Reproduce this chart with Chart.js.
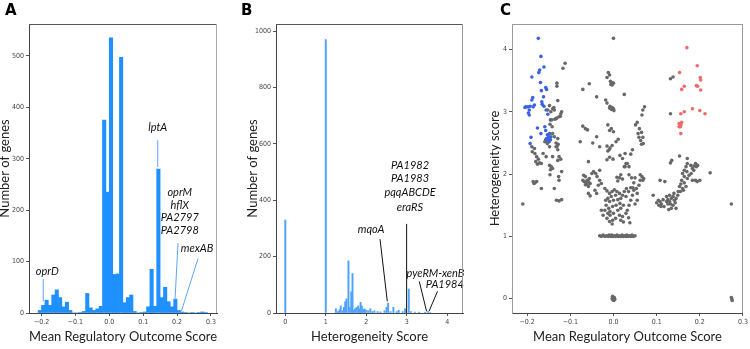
<!DOCTYPE html>
<html>
<head>
<meta charset="utf-8">
<script src="https://cdn.jsdelivr.net/npm/chart.js@4.4.1/dist/chart.umd.min.js"></script>
<style>
  body { margin: 0; background: #fff; }
  #wrap { position: relative; width: 750px; height: 349px; overflow: hidden; }
  canvas { position: absolute; top: 0; }
  .lab { position: absolute; font: bold 15px "DejaVu Sans", sans-serif; color: #000; }
</style>
</head>
<body>
<div id="wrap">
  <canvas id="cA" width="240" height="349" style="left:0"></canvas>
  <canvas id="cB" width="230" height="349" style="left:245px"></canvas>
  <canvas id="cC" width="260" height="349" style="left:490px"></canvas>
  <div class="lab" style="left:5px;top:1px">A</div>
  <div class="lab" style="left:241px;top:1px">B</div>
  <div class="lab" style="left:500px;top:1px">C</div>
</div>
<script>
'use strict';

// ---- panel A : histogram of mean regulatory outcome score (bin start, count)
const aBins = [-0.21, -0.20, -0.19, -0.18, -0.17, -0.16, -0.15, -0.14, -0.13, -0.12, -0.11, -0.10,
  -0.09, -0.08, -0.07, -0.06, -0.05, -0.04, -0.03, -0.02, -0.01, 0.00, 0.01, 0.02, 0.03, 0.04,
  0.05, 0.06, 0.07, 0.08, 0.09, 0.10, 0.11, 0.12, 0.13, 0.14, 0.15, 0.16, 0.17, 0.18, 0.19,
  0.20, 0.21, 0.22, 0.23, 0.24, 0.25, 0.26, 0.27, 0.28];
const aCounts = [5, 15, 25, 15, 35, 45, 30, 12, 21, 5, 0, 0,
  1, 3, 38, 10, 5, 8, 13, 375, 235, 535, 75, 76, 497, 20,
  30, 35, 3, 0, 1, 2, 12, 85, 13, 280, 30, 50, 22, 12, 27,
  5, 2, 1, 0, 1, 0, 1, 2, 1];
const aXTicks = [-0.2, -0.1, 0, 0.1, 0.2, 0.3];
const aXLabels = ['\u22120.2', '\u22120.1', '0.0', '0.1', '0.2', '0.3'];
const aYTicks = [0, 100, 200, 300, 400, 500];

// ---- panel B : histogram of heterogeneity score
const bScores = [0, 1, 1.25, 1.30, 1.34, 1.37, 1.42, 1.45, 1.48, 1.51, 1.56, 1.59, 1.63, 1.66,
  1.69, 1.72, 1.76, 1.80, 1.83, 1.86, 1.89, 1.92, 1.96, 2.00, 2.05, 2.10, 2.15, 2.20, 2.28,
  2.35, 2.45, 2.50, 2.54, 2.60, 2.67, 2.75, 2.80, 2.90, 2.96, 3.05, 3.10, 3.20, 3.30, 3.45,
  3.52, 3.58];
const bCounts = [330, 970, 15, 5, 12, 25, 8, 20, 40, 50, 185, 20, 75, 140,
  10, 15, 20, 25, 15, 38, 25, 12, 15, 10, 8, 15, 5, 8, 5,
  4, 8, 20, 35, 5, 20, 5, 10, 5, 15, 85, 5, 3, 3, 3,
  5, 2];
const bXTicks = [0, 1, 2, 3, 4];
const bYTicks = [0, 200, 400, 600, 800, 1000];

// ---- panel C : score vs heterogeneity, [score, heterogeneity]
const grayGenes = [
  [-0.210,1.52],[-0.112,3.78],[-0.117,3.70],[-0.131,3.46],[-0.131,3.41],[-0.129,3.18],
  [-0.148,3.10],[-0.141,3.05],[-0.145,3.00],[-0.152,3.03],[-0.123,2.93],[-0.131,2.90],[-0.136,2.88],
  [-0.142,2.76],[-0.147,2.80],[-0.133,2.50],[-0.130,2.45],[-0.128,2.48],
  [-0.189,2.44],[-0.183,2.41],[-0.188,2.36],[-0.182,2.33],[-0.178,2.28],[-0.174,2.24],[-0.180,2.20],
  [-0.171,2.18],[-0.167,2.17],[-0.176,2.16],[-0.159,2.52],[-0.153,2.49],[-0.148,2.44],
  [-0.163,2.33],[-0.156,2.28],[-0.148,2.14],[-0.144,2.12],[-0.141,2.09],[-0.146,2.07],
  [-0.129,2.22],[-0.126,2.28],[-0.122,2.24],[-0.133,2.44],[-0.129,2.39],
  [-0.141,2.65],[-0.137,2.60],[-0.129,2.57],[-0.126,2.92],[-0.122,2.97],[-0.120,3.00],
  [-0.138,3.07],[-0.137,3.03],[-0.133,2.89],[-0.143,2.87],
  [-0.186,1.88],[-0.182,1.86],[-0.178,1.88],[-0.184,1.85],[-0.167,1.77],[-0.147,1.99],[-0.137,1.77],
  [-0.132,1.58],[-0.126,1.57],[-0.120,1.59],[-0.127,1.96],[-0.126,1.90],[-0.120,2.04],[-0.141,2.28],
  [0.000,4.18],[-0.012,3.63],[-0.009,3.59],[-0.015,3.55],
  [-0.007,3.49],[-0.004,3.47],[0.000,3.46],[-0.006,3.44],[-0.003,3.43],
  [0.025,3.28],[-0.039,3.24],[-0.018,3.19],[-0.015,3.14],
  [-0.008,3.09],[-0.003,3.07],[0.000,3.05],[-0.005,3.04],[-0.009,3.06],[0.001,3.02],
  [-0.056,3.45],[-0.071,3.36],[-0.071,2.77],[-0.065,2.73],[-0.060,2.71],
  [-0.077,2.52],[-0.039,2.60],[-0.048,2.50],[-0.058,2.20],[-0.032,2.44],
  [-0.013,2.79],[-0.005,2.73],[0.000,2.68],[-0.009,2.70],
  [-0.015,2.45],[-0.008,2.42],[-0.003,2.46],[-0.010,2.39],[-0.013,2.37],
  [-0.009,2.27],[-0.001,2.24],[-0.015,2.23],[0.006,2.52],[0.011,2.56],
  [0.015,2.30],[0.021,2.25],[0.027,2.33],[0.051,2.79],[0.055,2.83],
  [0.060,2.73],[0.065,2.67],[0.068,2.59],[0.063,2.54],[0.059,2.59],[0.057,2.65],[0.069,2.49],[0.065,2.48],
  [0.072,3.08],[0.068,3.03],[0.066,2.95],[0.044,2.39],[0.040,2.32],
  [0.032,2.17],[0.027,2.12],[0.036,2.12],
  [0.062,1.99],[0.066,1.96],[0.068,1.90],[0.062,1.90],[0.070,1.93],
  [0.059,1.82],[0.053,1.77],[0.055,1.69],
  [0.036,1.99],[0.042,1.94],[0.047,1.86],[0.040,1.78],[0.045,1.78],[0.050,1.94],
  [0.017,1.99],[0.014,1.94],[0.008,1.95],[0.021,1.92],[0.010,1.89],[0.025,2.12],[0.029,2.17],
  [-0.032,2.06],[-0.041,2.01],[-0.038,1.96],
  [-0.069,1.98],[-0.065,1.96],[-0.061,1.90],[-0.068,1.88],[-0.063,1.86],[-0.058,1.88],[-0.054,1.85],
  [-0.060,1.83],[-0.065,1.83],[-0.056,1.93],[-0.050,2.01],[-0.046,2.04],[-0.071,1.90],[-0.058,1.80],
  [-0.058,1.69],[-0.054,1.65],[-0.032,1.90],[-0.035,1.82],[-0.028,1.85],[-0.043,1.74],[-0.039,1.69],
  [-0.028,1.42],[-0.024,1.34],[-0.015,1.29],[-0.008,1.34],[-0.002,1.26],[0.005,1.29],
  [-0.020,1.77],[-0.015,1.73],[-0.009,1.69],[-0.003,1.72],[0.002,1.75],[0.008,1.72],[0.014,1.69],
  [0.005,1.66],[-0.005,1.64],[-0.013,1.61],[-0.018,1.58],[-0.009,1.56],[0.000,1.58],[0.010,1.59],
  [0.017,1.61],[0.021,1.66],[0.025,1.72],[0.030,1.77],[0.035,1.72],[0.029,1.64],[0.015,1.53],
  [0.006,1.50],[-0.002,1.48],[-0.011,1.45],[-0.017,1.50],[-0.008,1.40],[0.000,1.37],[0.010,1.42],
  [0.017,1.45],[0.023,1.50],[-0.020,1.42],[-0.013,1.37],[0.014,1.34],[0.021,1.32],[0.029,1.37],
  [0.032,1.42],[0.036,1.50],[0.040,1.58],[0.044,1.66],[0.047,1.74],
  [0.017,1.26],[0.023,1.23],[0.035,1.30],[0.038,1.22],[0.055,1.58],[0.050,1.52],[-0.009,1.24],[-0.003,1.20],
  [-0.032,1.01],[-0.028,1.00],[-0.024,1.02],[-0.020,1.00],[-0.016,1.01],[-0.012,1.00],[-0.010,1.02],
  [-0.006,1.00],[-0.004,1.02],[-0.001,1.00],[0.002,1.01],[0.005,1.00],[0.008,1.02],[0.011,1.00],
  [0.014,1.01],[0.017,1.00],[0.020,1.02],[0.023,1.00],[0.026,1.01],[0.029,1.00],[0.031,1.02],
  [0.034,1.00],[0.037,1.01],[0.040,1.00],[0.043,1.02],[0.046,1.00],[0.050,1.01],
  [-0.003,0.00],[0.002,0.02],[0.001,-0.03],[-0.002,0.04],[0.003,-0.01],[0.000,0.01],[-0.001,-0.02],
  [0.274,0.00],[0.275,-0.03],[0.273,0.02],[0.273,1.52],
  [0.092,1.66],[0.108,1.90],[0.119,1.88],[0.132,2.18],[0.135,2.22],[0.153,2.29],[0.171,2.25],
  [0.104,1.58],[0.108,1.56],[0.111,1.52],[0.105,1.50],[0.110,1.48],[0.115,1.59],[0.100,1.54],[0.117,1.48],
  [0.123,1.64],[0.126,1.59],[0.130,1.56],[0.134,1.61],[0.138,1.64],[0.141,1.58],[0.132,1.52],[0.138,1.50],
  [0.126,1.52],[0.143,1.54],[0.145,1.61],[0.140,1.69],[0.149,1.66],[0.150,1.72],[0.130,1.66],[0.123,1.56],
  [0.134,1.45],[0.145,1.45],[0.128,1.43],[0.153,1.80],[0.156,1.84],[0.160,1.77],[0.164,1.86],[0.155,1.72],
  [0.162,1.74],[0.168,1.80],[0.158,1.90],[0.160,2.01],[0.164,2.06],[0.168,2.12],[0.170,2.04],[0.175,1.98],
  [0.164,1.96],[0.171,1.93],[0.180,2.01],[0.171,2.17],[0.179,2.14],[0.183,2.09],[0.186,2.13],[0.190,2.17],
  [0.192,2.12],[0.195,2.14],[0.186,2.06],[0.183,1.90],[0.190,1.90],[0.194,1.88],[0.200,1.90],[0.224,2.02],
  [0.132,3.53],[0.138,3.56],[0.132,2.97]
];
const blueGenes = [
  [-0.174,4.18],[-0.168,3.89],[-0.161,3.72],[-0.171,3.67],[-0.173,3.63],[-0.189,3.56],[-0.169,3.47],
  [-0.157,3.39],[-0.155,3.36],[-0.167,3.34],[-0.187,3.23],[-0.189,3.19],[-0.162,3.24],[-0.203,3.08],
  [-0.198,3.08],[-0.205,3.07],[-0.195,3.03],[-0.193,3.09],[-0.195,2.95],[-0.197,2.98],[-0.186,3.08],
  [-0.183,3.11],[-0.165,3.12],[-0.161,3.09],[-0.166,3.16],[-0.156,3.03],[-0.152,2.96],[-0.146,2.87],
  [-0.176,2.74],[-0.159,2.76],[-0.157,2.70],[-0.191,2.59],[-0.193,2.49],[-0.168,2.65],
  [-0.153,2.63],[-0.150,2.60],[-0.148,2.58],[-0.146,2.55],[-0.152,2.56],[-0.155,2.57],[-0.145,2.60],
  [-0.149,2.52],[-0.153,2.52],[-0.157,2.55],[-0.148,2.65]
];
const redGenes = [
  [0.170,4.03],[0.194,3.74],[0.153,3.63],[0.164,3.41],[0.158,3.36],[0.201,3.55],[0.202,3.51],
  [0.192,3.42],[0.195,3.41],[0.202,3.35],[0.183,3.05],[0.200,3.02],[0.212,2.97],[0.156,2.97],
  [0.164,3.00],[0.152,2.81],[0.156,2.79],[0.155,2.76],[0.158,2.83],[0.152,2.76],[0.156,2.65]
];
const cXTicks = [-0.2, -0.1, 0, 0.1, 0.2, 0.3];
const cYTicks = [0, 1, 2, 3, 4];

const tickFont = { family: '"DejaVu Sans Condensed", "DejaVu Sans", sans-serif', size: 7 };
const titleFont = { family: 'Lato, "Open Sans", sans-serif', size: 13 };

// box round the plot area (top + right edges; left/bottom are axis borders)
const boxPlugin = {
  id: 'box',
  afterDraw(chart, args, opts) {
    const { ctx, chartArea: a } = chart;
    ctx.save();
    ctx.lineWidth = 1;
    ctx.strokeStyle = opts.top;
    ctx.beginPath(); ctx.moveTo(a.left, a.top + 0.5); ctx.lineTo(a.right, a.top + 0.5); ctx.stroke();
    ctx.strokeStyle = opts.right;
    ctx.beginPath(); ctx.moveTo(a.right - 0.5, a.top); ctx.lineTo(a.right - 0.5, a.bottom); ctx.stroke();
    ctx.restore();
  }
};

// gene labels with leader lines, given in data units
const notesPlugin = {
  id: 'notes',
  afterDatasetsDraw(chart, args, opts) {
    const { ctx, scales: { x, y } } = chart;
    ctx.save();
    (opts.lines || []).forEach(l => {
      ctx.strokeStyle = opts.lineColor;
      ctx.lineWidth = 1;
      ctx.beginPath();
      ctx.moveTo(x.getPixelForValue(l[0]), y.getPixelForValue(l[1]));
      ctx.lineTo(x.getPixelForValue(l[2]), y.getPixelForValue(l[3]));
      ctx.stroke();
    });
    ctx.font = 'italic 11px Lato, "Open Sans", sans-serif';
    ctx.fillStyle = '#111';
    ctx.textAlign = 'center';
    ctx.textBaseline = 'middle';
    (opts.texts || []).forEach(t => {
      ctx.fillText(t[0], x.getPixelForValue(t[1]), y.getPixelForValue(t[2]));
    });
    ctx.restore();
  }
};

function axis(opts) {
  return Object.assign({
    type: 'linear',
    offset: false,
    grid: { drawOnChartArea: false, drawTicks: true, tickLength: 3, color: '#555', offset: false },
    border: { display: true, color: '#444' }
  }, opts);
}

function makeChart(id, type, datasets, cfg) {
  const W = document.getElementById(id).width;
  return new Chart(document.getElementById(id), {
    type: type,
    data: { datasets: datasets },
    plugins: [boxPlugin, notesPlugin],
    options: {
      responsive: false,
      animation: false,
      devicePixelRatio: 1,
      layout: { padding: { top: 24, right: W - cfg.right, bottom: 0, left: 0 } },
      plugins: {
        legend: { display: false },
        tooltip: { enabled: false },
        box: cfg.box,
        notes: cfg.notes
      },
      scales: {
        x: axis({
          min: cfg.xMin, max: cfg.xMax,
          afterBuildTicks: s => { s.ticks = cfg.xTicks.map(v => ({ value: v })); },
          afterFit: s => { s.height = 36; },
          ticks: { font: tickFont, color: '#444', padding: 2, maxRotation: 0, autoSkip: false,
            callback: cfg.xFmt },
          title: { display: true, text: cfg.xTitle, font: titleFont, color: '#222',
            padding: { top: 0, bottom: 4 } }
        }),
        y: axis({
          min: cfg.yMin, max: cfg.yMax,
          afterBuildTicks: s => { s.ticks = cfg.yTicks.map(v => ({ value: v })); },
          afterFit: s => { s.width = cfg.left; },
          border: { display: true, color: cfg.leftColor },
          ticks: { font: tickFont, color: '#444', padding: 2, autoSkip: false,
            callback: v => String(v) },
          title: { display: true, text: cfg.yTitle, font: titleFont, color: '#222',
            padding: { top: cfg.yTitlePad, bottom: 0 } }
        })
      }
    }
  });
}

const signed = v => (v < 0 ? '\u2212' : '') + Math.abs(v).toFixed(1);

// A
makeChart('cA', 'bar', [{
  data: aBins.map((b, i) => ({ x: b + 0.005, y: aCounts[i] })),
  backgroundColor: '#1e90ff',
  barPercentage: 1, categoryPercentage: 1, borderWidth: 0
}], {
  left: 29, right: 217, xMin: -0.237, xMax: 0.318, yMin: 0, yMax: 562,
  xTicks: aXTicks, yTicks: aYTicks, xFmt: (v, i) => aXLabels[i],
  xTitle: 'Mean Regulatory Outcome Score', yTitle: 'Number of genes', yTitlePad: -3,
  leftColor: '#444',
  box: { top: '#555', right: '#aaa' },
  notes: {
    lineColor: '#5aa5ff',
    lines: [[-0.195, 66, -0.195, 23], [0.143, 336, 0.143, 284], [0.203, 136, 0.194, 25],
      [0.262, 106, 0.213, 4]],
    texts: [['oprD', -0.183, 80], ['lptA', 0.143, 360], ['oprM', 0.208, 235], ['hflX', 0.208, 210],
      ['PA2797', 0.208, 186], ['PA2798', 0.208, 161], ['mexAB', 0.259, 126]]
  }
});

// B
makeChart('cB', 'bar', [{
  data: bScores.map((s, i) => ({ x: s, y: bCounts[i] })),
  backgroundColor: '#4da3ff',
  barThickness: 1.3, borderWidth: 0
}], {
  left: 31, right: 218, xMin: -0.23, xMax: 4.39, yMin: 0, yMax: 1025,
  xTicks: bXTicks, yTicks: bYTicks, xFmt: v => String(v),
  xTitle: 'Heterogeneity Score', yTitle: 'Number of genes', yTitlePad: 0,
  leftColor: '#444',
  box: { top: '#555', right: '#999' },
  notes: {
    lineColor: '#111',
    lines: [[2.997, 316, 2.997, 0], [2.34, 262, 2.52, 41], [3.31, 112, 3.49, 6], [3.76, 77, 3.55, 6]],
    texts: [['PA1982', 3.08, 525], ['PA1983', 3.08, 476], ['pqqABCDE', 3.08, 426], ['eraRS', 3.08, 376],
      ['mqoA', 2.12, 298], ['pyeRM-xenB', 3.71, 142], ['PA1984', 3.94, 100]]
  }
});

// C
const pts = arr => arr.map(p => ({ x: p[0], y: p[1] }));
makeChart('cC', 'scatter', [
  { data: pts(grayGenes), backgroundColor: '#686868', pointRadius: 1.8, borderWidth: 0 },
  { data: pts(blueGenes), backgroundColor: '#3b62e0', pointRadius: 1.8, borderWidth: 0 },
  { data: pts(redGenes), backgroundColor: '#f06a6a', pointRadius: 1.8, borderWidth: 0 }
], {
  left: 22, right: 257, xMin: -0.235, xMax: 0.30, yMin: -0.23, yMax: 4.41,
  xTicks: cXTicks, yTicks: cYTicks, xFmt: signed,
  xTitle: 'Mean Regulatory Outcome Score', yTitle: 'Heterogeneity score', yTitlePad: -3,
  leftColor: '#999',
  box: { top: '#999', right: '#999' },
  notes: { lineColor: '#000', lines: [], texts: [] }
});
</script>
</body>
</html>
